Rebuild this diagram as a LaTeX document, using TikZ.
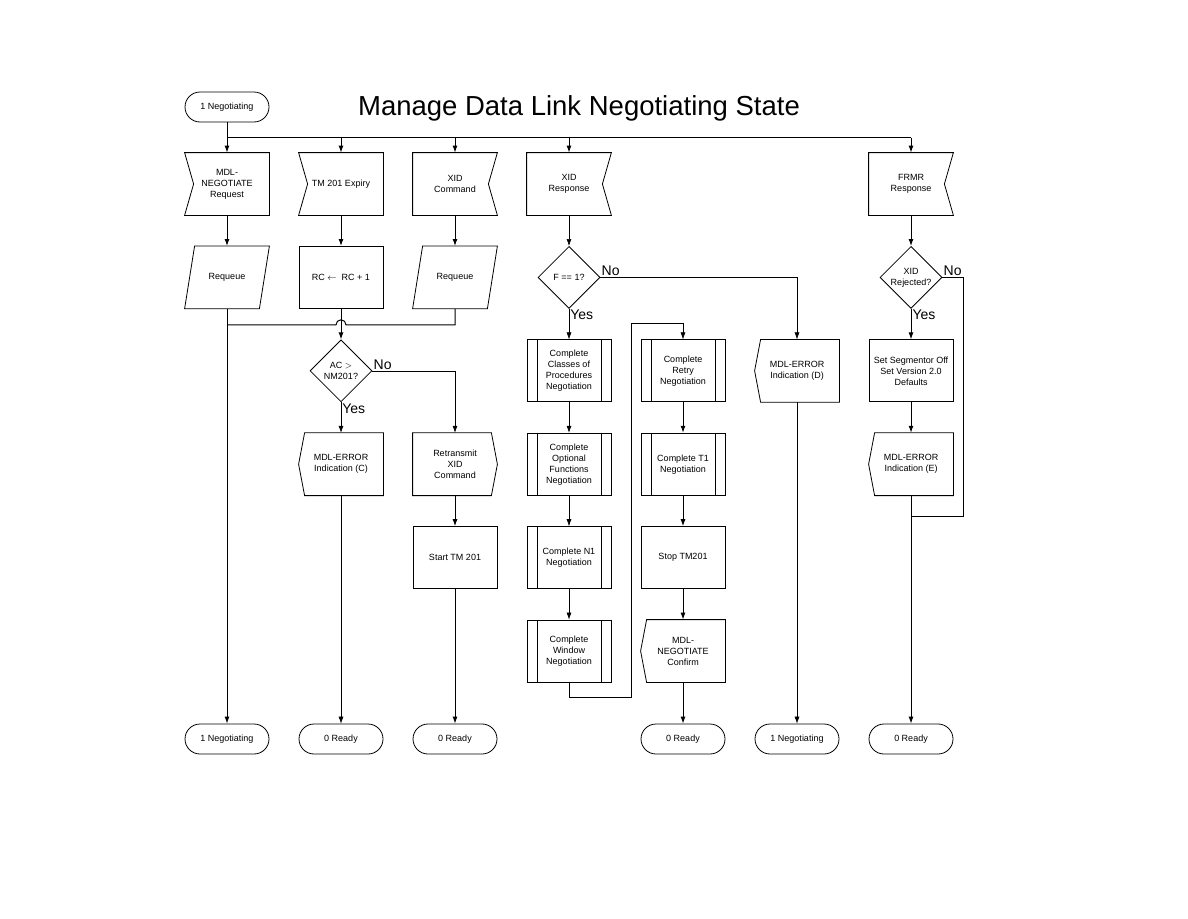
\documentclass[tikz,border=0pt]{standalone}
\usepackage{fontspec}
\setmainfont{Liberation Sans}
\usetikzlibrary{shapes.geometric,arrows.meta,positioning,calc}

\begin{document}
\begin{tikzpicture}[
    x=1pt, y=1pt,
    on grid,
    node distance=93.4pt and 114pt,
    >={Latex[length=7pt,width=5pt]},
    base/.style={draw, line width=0.8pt, minimum width=84pt, minimum height=62pt, inner sep=2pt, align=center, font=\fontsize{9}{11}\selectfont},
    terminal/.style={base, rectangle, rounded corners=15pt, minimum height=30pt},
    process/.style={base, rectangle},
    subproc/.style={process, path picture={
        \draw[line width=0.8pt] ([xshift=10pt]path picture bounding box.north west) -- ([xshift=10pt]path picture bounding box.south west);
        \draw[line width=0.8pt] ([xshift=-10pt]path picture bounding box.north east) -- ([xshift=-10pt]path picture bounding box.south east);}},
    outlined/.style={base, draw=none, append after command={\pgfextra{\draw[line width=0.8pt] #1;}}},
    requeue/.style={outlined={([xshift=10pt]\tikzlastnode.north west) -- (\tikzlastnode.north east) -- ([xshift=-10pt]\tikzlastnode.south east) -- (\tikzlastnode.south west) -- cycle}},
    inleft/.style={outlined={(\tikzlastnode.north west) -- (\tikzlastnode.north east) -- (\tikzlastnode.south east) -- (\tikzlastnode.south west) -- ([xshift=9pt]\tikzlastnode.west) -- cycle}},
    inright/.style={outlined={(\tikzlastnode.north west) -- (\tikzlastnode.north east) -- ([xshift=-9pt]\tikzlastnode.east) -- (\tikzlastnode.south east) -- (\tikzlastnode.south west) -- cycle}},
    outleft/.style={outlined={([xshift=6pt]\tikzlastnode.north west) -- (\tikzlastnode.north east) -- (\tikzlastnode.south east) -- ([xshift=6pt]\tikzlastnode.south west) -- (\tikzlastnode.west) -- cycle}},
    outright/.style={outlined={(\tikzlastnode.north west) -- ([xshift=-6pt]\tikzlastnode.north east) -- (\tikzlastnode.east) -- ([xshift=-6pt]\tikzlastnode.south east) -- (\tikzlastnode.south west) -- cycle}},
    decision/.style={base, diamond, aspect=1, minimum width=62pt, minimum height=62pt, inner sep=-3pt},
    arrow/.style={->, line width=1pt},
    thinarrow/.style={->, line width=0.6pt},
    line/.style={line width=1pt},
    thinline/.style={line width=0.6pt},
    answer/.style={font=\fontsize{14}{16}\selectfont, inner sep=1pt},
]
\useasboundingbox (0,0) rectangle (1188,-918);

% Title
\node[font=\fontsize{27.5}{30}\selectfont] (title) at (579,-108) {Manage Data Link Negotiating State};

% Entry state and incoming events
\node[terminal] (start) at (227,-107) {1 Negotiating};
\node[inleft, below=77pt of start] (mdlreq) {MDL-\\NEGOTIATE\\Request};
\node[inleft, right=of mdlreq] (tmexp) {TM 201 Expiry};
\node[inright, right=of tmexp] (xidcmd) {XID\\Command};
\node[inright, right=of xidcmd] (xidrsp) {XID\\Response};
\node[inright, right=342pt of xidrsp] (frmr) {FRMR\\Response};

% Second row
\node[requeue, below=of mdlreq] (requeue1) {Requeue};
\node[process, below=of tmexp] (rcinc) {RC $\leftarrow$\ \ RC + 1};
\node[requeue, below=of xidcmd] (requeue2) {Requeue};
\node[decision, below=of xidrsp] (fcheck) {F == 1?};
\node[decision, below=of frmr] (xidrej) {XID\\Rejected?};

% Retry counter branch
\node[decision, below=of rcinc] (acchk) {AC $>$\\NM201?};
\node[outleft, below=of acchk] (errC) {MDL-ERROR\\Indication (C)};
\node[outright, right=of errC] (retx) {Retransmit\\XID\\Command};
\node[process, below=of retx] (starttm) {Start TM 201};

% XID response branch
\node[subproc, below=of fcheck] (classes) {Complete\\Classes of\\Procedures\\Negotiation};
\node[subproc, below=of classes] (optional) {Complete\\Optional\\Functions\\Negotiation};
\node[subproc, below=of optional] (n1) {Complete N1\\Negotiation};
\node[subproc, below=of n1] (window) {Complete\\Window\\Negotiation};
\node[subproc, right=of classes] (retry) {Complete\\Retry\\Negotiation};
\node[subproc, below=of retry] (t1) {Complete T1\\Negotiation};
\node[process, below=of t1] (stoptm) {Stop TM201};
\node[outleft, below=of stoptm] (confirm) {MDL-\\NEGOTIATE\\Confirm};
\node[outleft, right=of retry] (errD) {MDL-ERROR\\Indication (D)};

% FRMR branch
\node[process, below=of xidrej] (segm) {Set Segmentor Off\\Set Version 2.0\\Defaults};
\node[outleft, below=of segm] (errE) {MDL-ERROR\\Indication (E)};

% Exit states
\node[terminal, below=88pt of confirm] (okB) {0 Ready};
\node[terminal, right=of okB] (negD) {1 Negotiating};
\node[terminal, right=of negD] (okE) {0 Ready};
\node[terminal, left=228pt of okB] (okC) {0 Ready};
\node[terminal, left=of okC] (okS) {0 Ready};
\node[terminal, left=of okS] (negA) {1 Negotiating};

% Event bus
\coordinate (bus) at ($(start.south)!0.5!(mdlreq.north)$);
\draw[arrow] (start) -- (mdlreq);
\draw[thinline] (bus) -- (bus -| frmr);
\foreach \n in {tmexp, xidcmd, xidrsp, frmr}
    \draw[arrow] (bus -| \n) -- (\n);

% Requeue paths
\draw[arrow] (mdlreq) -- (requeue1);
\draw[arrow] (requeue1) -- (negA);
\draw[arrow] (xidcmd) -- (requeue2);
\coordinate[below=16pt of requeue2.south] (merge);
\draw[line] (requeue2) -- (merge) -- ($(merge -| rcinc)+(5,0)$) arc[start angle=0, end angle=180, radius=5] -- (merge -| requeue1);

% Timer expiry
\draw[arrow] (tmexp) -- (rcinc);
\draw[arrow] (rcinc) -- (acchk);
\draw[thinarrow] (acchk) -- node[answer, at start, anchor=north west] {Yes} (errC);
\draw[thinarrow] (acchk.east) -| node[answer, at start, anchor=south west] {No} (retx);
\draw[thinarrow] (errC) -- (okS);
\draw[arrow] (retx) -- (starttm);
\draw[arrow] (starttm) -- (okC);

% XID response
\draw[thinarrow] (xidrsp) -- (fcheck);
\draw[thinarrow] (fcheck) -- node[answer, at start, anchor=north west] {Yes} (classes);
\draw[thinarrow] (fcheck.east) -| node[answer, at start, anchor=south west] {No} (errD);
\foreach \a/\b in {classes/optional, optional/n1, n1/window}
    \draw[thinarrow] (\a) -- (\b);
\draw[thinarrow] (window.south) -- ++(0,-15) -- ++(62,0) |- ([yshift=16pt]retry.north) -- (retry);
\foreach \a/\b in {retry/t1, t1/stoptm, stoptm/confirm, confirm/okB}
    \draw[arrow] (\a) -- (\b);
\draw[thinarrow] (errD) -- (negD);

% FRMR response
\draw[arrow] (frmr) -- (xidrej);
\draw[arrow] (xidrej) -- node[answer, at start, anchor=north west] {Yes} (segm);
\draw[arrow] (segm) -- (errE);
\draw[arrow] (errE) -- (okE);
\draw[thinline] (xidrej.east) -- node[answer, at start, anchor=south west] {No} ++(21,0) |- ([yshift=-21pt]errE.south);

\end{tikzpicture}
\end{document}
